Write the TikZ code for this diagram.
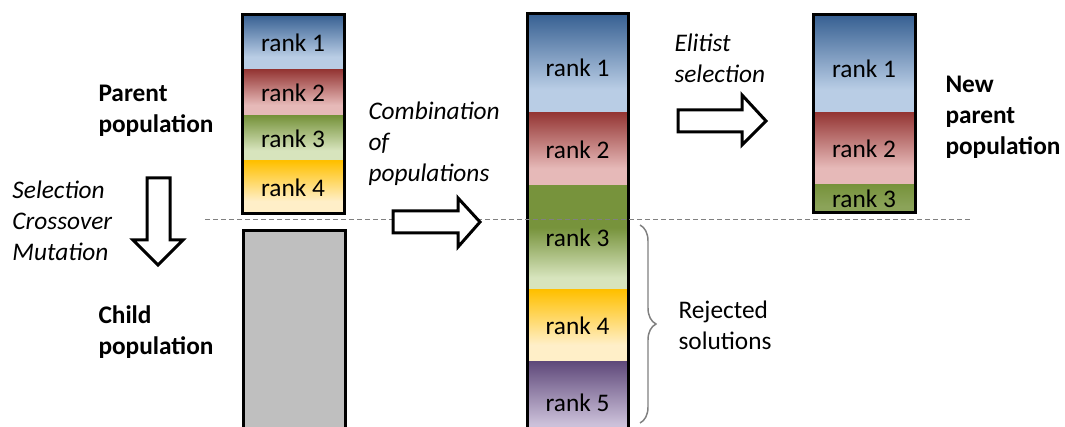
\documentclass[tikz,border=0pt]{standalone}
\usepackage{fontspec}
\setmainfont{Carlito}
\usetikzlibrary{decorations.pathreplacing}

\definecolor{blueTop}{HTML}{376092}
\definecolor{blueBot}{HTML}{B9CDE5}
\definecolor{redTop}{HTML}{953735}
\definecolor{redBot}{HTML}{E6B9B8}
\definecolor{greenTop}{HTML}{77933C}
\definecolor{greenBot}{HTML}{D7E4BD}
\definecolor{orangeTop}{HTML}{FFC000}
\definecolor{orangeBot}{HTML}{FFEFC8}
\definecolor{purpleTop}{HTML}{604A7B}
\definecolor{purpleBot}{HTML}{CCC1DA}
\definecolor{childGray}{HTML}{BFBFBF}
\definecolor{lineGray}{HTML}{808080}

\colorlet{rktop}{black}
\colorlet{rkbot}{white}
\pgfdeclareverticalshading[rktop,rkbot]{rankfade}{100bp}{color(0bp)=(rkbot);
  color(37bp)=(rkbot); color(75bp)=(rktop); color(100bp)=(rktop)}
\pgfdeclareverticalshading[rktop,rkbot]{rankdeep}{100bp}{color(0bp)=(rkbot);
  color(31bp)=(rkbot); color(55bp)=(rktop); color(100bp)=(rktop)}

\begin{document}
\begin{tikzpicture}[x=0.75pt,y=-0.75pt,font=\fontsize{19}{23.6}\selectfont,
  line width=2.25pt,
  band/.style 2 args={anchor=north west,inner sep=0pt,outer sep=0pt,
    /utils/exec={\colorlet{rktop}{#1}\colorlet{rkbot}{#2}},shading=rankfade},
  leftcol/.style={minimum width=76.5pt},
  midcol/.style={minimum width=75.75pt},
  lowtext/.style={text height=20pt},
  blockarrow/.style={draw,fill=white,line join=miter},
  cutline/.style={draw=lineGray,line width=0.75pt,dash pattern=on 3.75pt off 2.25pt},
  caption/.style={anchor=base west,align=left,inner sep=0pt}]
  \useasboundingbox (0,0) rectangle (1065,427);

  % parent population
  \node[band={blueTop}{blueBot},leftcol,minimum height=41.25pt] (p1) at (242,15) {rank 1};
  \node[band={redTop}{redBot},leftcol,minimum height=34.5pt] (p2) at (242,70) {rank 2};
  \node[band={greenTop}{greenBot},leftcol,minimum height=33.75pt] (p3) at (242,116) {rank 3};
  \node[band={orangeTop}{orangeBot},leftcol,minimum height=39.75pt] (p4) at (242,161) {rank 4};
  \draw (p1.north west) rectangle (p4.south east);

  % child population
  \node[draw,fill=childGray,anchor=north west,inner sep=0pt,leftcol,
    minimum height=161.25pt] (child) at (242,229) {};

  % combined population
  \node[band={blueTop}{blueBot},midcol,lowtext,minimum height=74.25pt] (c1) at (527,14) {rank 1};
  \node[band={redTop}{redBot},midcol,minimum height=54.75pt] (c2) at (527,113) {rank 2};
  \node[band={greenTop}{greenBot},midcol,shading=rankdeep,minimum height=78pt] (c3) at (527,186) {rank 3};
  \node[band={orangeTop}{orangeBot},midcol,minimum height=54pt] (c4) at (527,290) {rank 4};
  \node[band={purpleTop}{purpleBot},midcol,minimum height=61.5pt] (c5) at (527,362) {rank 5};
  \draw (c1.north west) rectangle (c5.south east);

  % new parent population
  \node[band={blueTop}{blueBot},leftcol,lowtext,minimum height=73.5pt] (n1) at (813,15) {rank 1};
  \node[band={redTop}{redBot},leftcol,minimum height=54pt] (n2) at (813,113) {rank 2};
  \node[band={greenTop}{greenTop!85!white},leftcol,minimum height=21pt] (n3) at (813,185) {rank 3};
  \draw (n1.north west) rectangle (n3.south east);

  \coordinate (cutL) at (205,220);
  \coordinate (cutR) at (970,220);
  \draw[cutline] (cutL) -- (cutR);

  % block arrows
  \draw[blockarrow] (147,178) -- ++(23,0) -- ++(0,62) -- ++(13,0) -- ++(-25,25)
    -- ++(-25,-25) -- ++(14,0) -- cycle;
  \draw[blockarrow] (393,211) -- ++(65,0) -- ++(0,-13) -- ++(22,24) -- ++(-22,25)
    -- ++(0,-14) -- ++(-65,0) -- cycle;
  \draw[blockarrow] (678,110) -- ++(64,0) -- ++(0,-15) -- ++(24,26) -- ++(-24,24)
    -- ++(0,-13) -- ++(-64,0) -- cycle;

  \coordinate (rejTop) at (640,225);
  \coordinate (rejBot) at (640,423);
  \draw[lineGray,line width=1.1pt,decorate,decoration={brace,amplitude=12pt}]
    (rejTop) -- (rejBot);

  % captions, placed at the baseline of their last line
  \node[caption,font=\fontsize{19}{23.6}\selectfont\bfseries] (parentlbl) at (97,133) {Parent\\population};
  \node[caption,font=\fontsize{19}{23.6}\selectfont\bfseries] (childlbl) at (97,355) {Child\\population};
  \node[caption,font=\fontsize{19}{23.6}\selectfont\bfseries] (newlbl) at (944,155) {New\\parent\\population};
  \node[caption,font=\fontsize{19}{23.6}\selectfont\itshape] (ops) at (11,261) {Selection\\Crossover\\Mutation};
  \node[caption,font=\fontsize{19}{23.6}\selectfont\itshape] (comb) at (367,182) {Combination\\of\\populations};
  \node[caption,font=\fontsize{19}{23.6}\selectfont\itshape] (elit) at (673,83) {Elitist\\selection};
  \node[caption] (rej) at (677,350) {Rejected\\solutions};
\end{tikzpicture}
\end{document}
